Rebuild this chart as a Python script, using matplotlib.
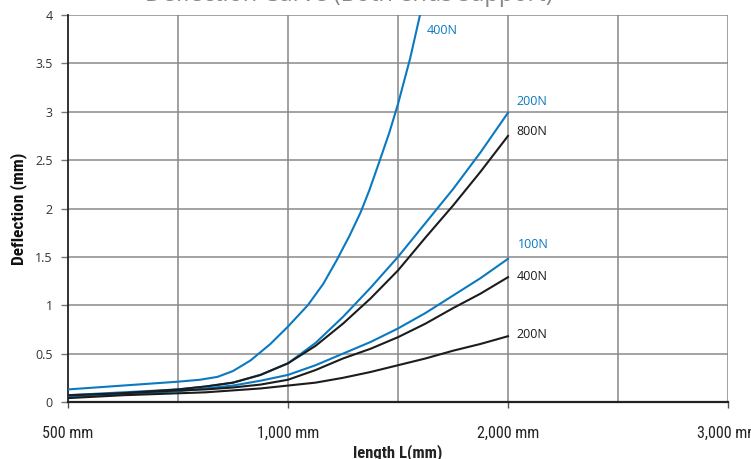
import matplotlib
matplotlib.use("Agg")
import matplotlib.pyplot as plt
from matplotlib import font_manager as fm

# x positions on the chart's (non-linear) length axis: 0=500mm, 1=1000mm, 2=2000mm, 3=3000mm
x_ticks = [0, 1, 2, 3]
x_tick_labels = ["500 mm", "1,000 mm", "2,000 mm", "3,000 mm"]
y_ticks = [0, 0.5, 1, 1.5, 2, 2.5, 3, 3.5, 4]
y_tick_labels = ["0", "0.5", "1", "1.5", "2", "2.5", "3", "3.5", "4"]

x_b400 = [0, 0.25, 0.5, 0.6, 0.68, 0.75, 0.83, 0.92, 1.0, 1.09, 1.16, 1.22, 1.28, 1.33, 1.37, 1.41, 1.46, 1.5, 1.555, 1.6, 1.62]
y_b400 = [0.13, 0.17, 0.21, 0.23, 0.26, 0.32, 0.43, 0.60, 0.78, 1.0, 1.22, 1.46, 1.72, 1.96, 2.19, 2.45, 2.78, 3.08, 3.55, 4.0, 4.2]

x_main = [0, 0.25, 0.5, 0.625, 0.75, 0.875, 1.0, 1.125, 1.25, 1.375, 1.5, 1.625, 1.75, 1.875, 2.0]
y_b200 = [0.07, 0.10, 0.13, 0.16, 0.20, 0.28, 0.40, 0.61, 0.88, 1.18, 1.50, 1.85, 2.20, 2.58, 2.99]
y_k800 = [0.05, 0.09, 0.13, 0.16, 0.20, 0.28, 0.40, 0.58, 0.81, 1.07, 1.36, 1.70, 2.03, 2.38, 2.75]
y_b100 = [0.05, 0.08, 0.11, 0.14, 0.17, 0.22, 0.28, 0.38, 0.50, 0.62, 0.76, 0.92, 1.10, 1.28, 1.48]
y_k400 = [0.07, 0.09, 0.12, 0.13, 0.15, 0.18, 0.23, 0.33, 0.45, 0.55, 0.67, 0.81, 0.97, 1.12, 1.29]
y_k200 = [0.04, 0.07, 0.09, 0.10, 0.12, 0.14, 0.17, 0.20, 0.25, 0.31, 0.38, 0.45, 0.53, 0.60, 0.68]

labels = ["400N", "200N", "800N", "100N", "400N", "200N"]
label_y = [3.84, 3.11, 2.80, 1.63, 1.30, 0.70]
label_x = [1.63, 2.04, 2.04, 2.045, 2.04, 2.04]

BLUE = "#0b79c0"
BLACK = "#1c1c1c"
label_colors = [BLUE, BLUE, BLACK, BLUE, BLACK, BLACK]

names = {f.name for f in fm.fontManager.ttflist}
narrow_kw = {}
for cand in ["Liberation Sans Narrow", "Roboto Condensed", "Open Sans Condensed"]:
    if cand in names:
        narrow_kw = {"family": [cand, "DejaVu Sans"]}
        break
if not narrow_kw:
    narrow_kw = {"family": ["DejaVu Sans"], "fontstretch": "condensed"}

humanist = ["Open Sans", "DejaVu Sans"]

fig = plt.figure(figsize=(7.51, 4.59), dpi=100)
ax = fig.add_axes([68 / 751, 57 / 459, 660 / 751, 387 / 459])

ax.set_xlim(0, 3)
ax.set_ylim(0, 4)

# grid
for gx in [0.5, 1, 1.5, 2, 2.5, 3]:
    ax.axvline(gx, color="#888888", lw=1.1, zorder=1)
for gy in y_ticks[1:]:
    ax.axhline(gy, color="#8a8a8a", lw=1.1, zorder=1)

lw = 1.5
ax.plot(x_b400, y_b400, color=BLUE, lw=lw, zorder=3, clip_on=True)
ax.plot(x_main, y_b200, color=BLUE, lw=lw, zorder=3)
ax.plot(x_main, y_k800, color=BLACK, lw=lw, zorder=3)
ax.plot(x_main, y_b100, color=BLUE, lw=lw, zorder=3)
ax.plot(x_main, y_k400, color=BLACK, lw=lw, zorder=3)
ax.plot(x_main, y_k200, color=BLACK, lw=lw, zorder=3)

for t, xx, yy, c in zip(labels, label_x, label_y, label_colors):
    ax.text(xx, yy, t, color=c, fontsize=9, family=humanist,
            ha="left", va="center", zorder=4)

for s in ["top", "right"]:
    ax.spines[s].set_visible(False)
ax.spines["left"].set_color("#222222")
ax.spines["left"].set_linewidth(1.3)
ax.spines["bottom"].set_color("#222222")
ax.spines["bottom"].set_linewidth(1.6)

ax.set_xticks(x_ticks)
ax.set_xticklabels(x_tick_labels, fontsize=11.5, color="#222222", **narrow_kw)
ax.set_yticks(y_ticks)
ax.set_yticklabels(y_tick_labels, family=humanist, fontsize=9, color="#333333")
ax.tick_params(axis="x", length=4, width=1, color="#555555", pad=13)
ax.tick_params(axis="y", length=5, width=1, color="#777777", pad=6)

ax.set_xlabel("length L(mm)", fontweight="bold", fontsize=12, color="#222222", labelpad=2.5, **narrow_kw)
ax.set_ylabel("Deflection (mm)", fontweight="bold", fontsize=12.5, color="#111111", labelpad=6, **narrow_kw)

fig.text(0.465, 1 - 0.8 / 459, "Deflection Curve (Both ends support)", ha="center", va="baseline",
         fontsize=17, color="#888888", family=humanist)

fig.savefig("out.png", dpi=100)
